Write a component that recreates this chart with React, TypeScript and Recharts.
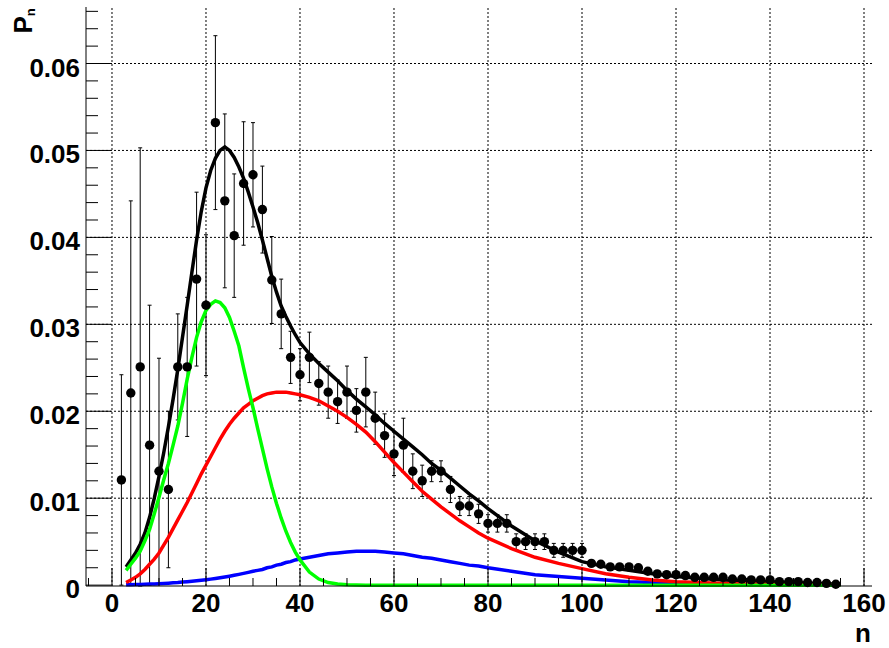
// Multiplicity distribution P(n) with fit and its three components

import {
  ComposedChart,
  Line,
  Scatter,
  ErrorBar,
  XAxis,
  YAxis,
  ReferenceLine,
} from 'recharts';

// measured points
const pointN = [
  2, 4, 6, 8, 10, 12, 14, 16, 18, 20, 22, 24, 26, 28, 30, 32, 34, 36, 38, 40,
  42, 44, 46, 48, 50, 52, 54, 56, 58, 60, 62, 64, 66, 68, 70, 72, 74, 76, 78, 80,
  82, 84, 86, 88, 90, 92, 94, 96, 98, 100, 102, 104, 106, 108, 110, 112, 114, 116, 118, 120,
  122, 124, 126, 128, 130, 132, 134, 136, 138, 140, 142, 144, 146, 148, 150, 152, 154,
];
const pointP = [
  0.0121, 0.0221, 0.0251, 0.0161, 0.0131, 0.011, 0.0251, 0.0251, 0.0352, 0.0322,
  0.0532, 0.0442, 0.0402, 0.0462, 0.0472, 0.0432, 0.0351, 0.0312, 0.0262, 0.0242,
  0.0262, 0.0232, 0.0222, 0.0211, 0.0222, 0.0201, 0.0222, 0.0192, 0.0172, 0.0151,
  0.0161, 0.0131, 0.012, 0.0131, 0.0131, 0.011, 0.0091, 0.0091, 0.0082, 0.0071,
  0.0071, 0.0071, 0.005, 0.005, 0.005, 0.005, 0.004, 0.004, 0.004, 0.004,
  0.0025, 0.0024, 0.0021, 0.0021, 0.0021, 0.002, 0.0016, 0.0013, 0.0012, 0.0012,
  0.0011, 0.0009, 0.0009, 0.0009, 0.0009, 0.0007, 0.0007, 0.0006, 0.0006, 0.0006,
  0.0004, 0.0004, 0.0004, 0.0003, 0.0003, 0.0002, 0.0001,
];
const pointErr = [
  0.0121, 0.0221, 0.0252, 0.0161, 0.013, 0.009, 0.0061, 0.008, 0.01, 0.0081,
  0.01, 0.01, 0.0071, 0.0071, 0.006, 0.005, 0.005, 0.004, 0.003, 0.003,
  0.0029, 0.0025, 0.003, 0.0025, 0.003, 0.0025, 0.004, 0.003, 0.0025, 0.0025,
  0.0031, 0.002, 0.0018, 0.0012, 0.0012, 0.0015, 0.0011, 0.0011, 0.0011, 0.001,
  0.001, 0.001, 0.0009, 0.0009, 0.0009, 0.0009, 0.0008, 0.0008, 0.0008, 0.0008,
  0.0003, 0.0003, 0.0003, 0.0003, 0.0003, 0.0003, 0.0002, 0.0002, 0.0002, 0.0002,
  0.0002, 0.0002, 0.0002, 0.0002, 0.0002, 0.0002, 0.0002, 0.0002, 0.0002, 0.0002,
  0.0002, 0.0002, 0.0002, 0.0002, 0.0002, 0.0002, 0.0002,
];

// fitted curves, sampled at these n
const curveN = [
  3, 4, 5, 6, 7, 8, 9, 10, 11, 12, 13, 14, 15, 16, 17, 18, 19, 20, 21, 22,
  23, 24, 25, 26, 27, 28, 29, 30, 31, 32, 33, 34, 35, 36, 37, 38, 39, 40,
  42, 44, 46, 48, 50, 52, 54, 56, 58, 60, 62, 64, 66, 68, 70, 72, 74, 76, 78, 80,
  85, 90, 95, 100, 105, 110, 115, 120, 125, 130, 135, 140, 145, 150, 155,
];
const totalFit = [
  0.0021, 0.0029, 0.0037, 0.0047, 0.006, 0.0078, 0.01, 0.0125, 0.0152, 0.0182,
  0.0214, 0.0248, 0.0285, 0.0322, 0.036, 0.0397, 0.043, 0.0457, 0.0477, 0.0491,
  0.05, 0.0504, 0.05, 0.0492, 0.0481, 0.0468, 0.0452, 0.0435, 0.0417, 0.0397,
  0.0376, 0.0355, 0.0337, 0.0321, 0.0309, 0.0298, 0.0288, 0.0279,
  0.0266, 0.0255, 0.0245, 0.0235, 0.0224, 0.0214, 0.0205, 0.0196, 0.0186, 0.0177,
  0.0168, 0.0159, 0.015, 0.014, 0.0132, 0.0123, 0.0114, 0.0105, 0.0097, 0.0088,
  0.0068, 0.0051, 0.0038, 0.0027, 0.0021, 0.0017, 0.0013, 0.001, 0.0008, 0.0006,
  0.0005, 0.0004, 0.0003, 0.0002, 0.0001,
];
const greenFit = [
  0.0017, 0.0024, 0.0031, 0.0039, 0.0051, 0.0064, 0.0082, 0.0101, 0.0121, 0.014,
  0.0161, 0.0183, 0.0209, 0.0237, 0.0262, 0.0285, 0.0303, 0.0316, 0.0323, 0.0327,
  0.0325, 0.0319, 0.0308, 0.0292, 0.0275, 0.025, 0.0226, 0.0204, 0.018, 0.0157,
  0.0134, 0.0113, 0.0094, 0.0077, 0.0062, 0.0049, 0.0038, 0.0029,
  0.0015, 0.0007, 0.0003, 0.00012, 0.00005, 0.00002, 0, 0, 0, 0,
  0, 0, 0, 0, 0, 0, 0, 0, 0, 0,
  0, 0, 0, 0, 0, 0, 0, 0, 0, 0,
  0, 0, 0, 0, 0,
];
const redFit = [
  0.0003, 0.0006, 0.0009, 0.0013, 0.0018, 0.0024, 0.003, 0.0037, 0.0046, 0.0055,
  0.0065, 0.0075, 0.0085, 0.0095, 0.0106, 0.0117, 0.0128, 0.0138, 0.0148, 0.0158,
  0.0168, 0.0177, 0.0185, 0.0192, 0.0198, 0.0204, 0.0208, 0.0212, 0.0215, 0.0218,
  0.022, 0.0221, 0.0222, 0.0222, 0.0222, 0.0221, 0.022, 0.0219,
  0.0216, 0.0212, 0.0206, 0.02, 0.0193, 0.0185, 0.0176, 0.0165, 0.0153, 0.0141,
  0.013, 0.0119, 0.0108, 0.0099, 0.009, 0.0082, 0.0074, 0.0067, 0.006, 0.0054,
  0.0042, 0.0032, 0.0025, 0.0019, 0.0013, 0.0009, 0.0006, 0.0004, 0.0003, 0.0002,
  0.00012, 0.00008, 0.00005, 0.00003, 0.00002,
];
const blueFit = [
  0.00003, 0.00004, 0.00006, 0.00008, 0.0001, 0.00012, 0.00014, 0.00017, 0.0002, 0.00023,
  0.00027, 0.0003, 0.00035, 0.0004, 0.00045, 0.0005, 0.00056, 0.00062, 0.00069, 0.00077,
  0.00085, 0.00094, 0.00103, 0.00113, 0.00124, 0.00135, 0.00147, 0.0016, 0.0017, 0.0018,
  0.002, 0.0021, 0.0023, 0.0024, 0.0026, 0.0027, 0.0029, 0.003,
  0.0032, 0.0034, 0.0036, 0.0037, 0.0038, 0.0039, 0.0039, 0.0039, 0.0038, 0.0037,
  0.0036, 0.0034, 0.0032, 0.0031, 0.0029, 0.0027, 0.0025, 0.0023, 0.0022, 0.002,
  0.0016, 0.0012, 0.001, 0.0008, 0.0006, 0.0004, 0.0003, 0.0002, 0.00014, 0.0001,
  0.00007, 0.00005, 0.00003, 0.00002, 0.00001,
];

// axis ticks (majors get labels + grid)
const xTicks = [
  -5, 0, 5, 10, 15, 20, 25, 30, 35, 40, 45, 50, 55, 60, 65, 70, 75, 80, 85, 90,
  95, 100, 105, 110, 115, 120, 125, 130, 135, 140, 145, 150, 155, 160,
];
const yTicks = [
  0, 0.002, 0.004, 0.006, 0.008, 0.01, 0.012, 0.014, 0.016, 0.018, 0.02, 0.022,
  0.024, 0.026, 0.028, 0.03, 0.032, 0.034, 0.036, 0.038, 0.04, 0.042, 0.044,
  0.046, 0.048, 0.05, 0.052, 0.054, 0.056, 0.058, 0.06, 0.062, 0.064, 0.066,
];
const xGrid = [0, 20, 40, 60, 80, 100, 120, 140, 160];
const yGrid = [0.01, 0.02, 0.03, 0.04, 0.05, 0.06];

const points = pointN.map((n, i) => ({ n, p: pointP[i], e: pointErr[i] }));
const fitData = curveN.map((n, i) => ({
  n,
  total: totalFit[i],
  green: greenFit[i],
  red: redFit[i],
  blue: blueFit[i],
}));

const FONT = '"Liberation Sans", Arial, Helvetica, sans-serif';
const CURVE_W = 3.5;

const isMajorY = (v: number) => Math.abs(v * 100 - Math.round(v * 100)) < 1e-6;

function YTick(props: any) {
  const { x, y, payload } = props;
  const v = payload.value;
  const major = isMajorY(v);
  return (
    <g>
      <line x1={x} x2={x + (major ? 25 : 12)} y1={y} y2={y} stroke="#000" strokeWidth={1} />
      {major && (
        <text x={x - 6} y={y + 13} textAnchor="end" fontFamily={FONT} fontWeight="bold" fontSize={26} fill="#000">
          {v === 0 ? '0' : v.toFixed(2)}
        </text>
      )}
    </g>
  );
}

function XTick(props: any) {
  const { x, y, payload } = props;
  const v = payload.value;
  const major = v % 20 === 0;
  return (
    <g>
      <line x1={x} x2={x} y1={y} y2={y - (major ? 18 : 8)} stroke="#000" strokeWidth={1} />
      {major && (
        <text x={x} y={y + 26} textAnchor="middle" fontFamily={FONT} fontWeight="bold" fontSize={26} fill="#000">
          {v}
        </text>
      )}
    </g>
  );
}

function XTitle() {
  return (
    <text x={871} y={642} textAnchor="end" fontFamily={FONT} fontWeight="bold" fontSize={26} fill="#000">
      n
    </text>
  );
}

function YTitle() {
  return (
    <text transform="translate(31.7,33.5) rotate(-90)" fontFamily={FONT} fontWeight="bold" fill="#000">
      <tspan fontSize={26}>P</tspan>
      <tspan fontSize={13} dy={3.3}>n</tspan>
    </text>
  );
}

const Dot = (p: any) => <circle cx={p.cx} cy={p.cy} r={4.7} fill="#000" />;

export default function App() {
  return (
    <div style={{ position: 'absolute', left: 0, top: 0, background: '#fff' }}>
      <ComposedChart
        width={889}
        height={648}
        data={fitData}
        margin={{ top: 7, right: 17, bottom: 0, left: 0 }}
      >
        <XAxis
          dataKey="n"
          type="number"
          domain={[-5.53, 161.7]}
          ticks={xTicks}
          interval={0}
          tickSize={0}
          tickMargin={0}
          tick={<XTick />}
          height={62}
          axisLine={{ stroke: '#000' }}
          label={<XTitle />}
        />
        <XAxis
          xAxisId="top"
          orientation="top"
          type="number"
          domain={[-5.53, 161.7]}
          tick={false}
          tickLine={false}
          height={0}
          axisLine={{ stroke: '#000' }}
        />
        <YAxis
          type="number"
          domain={[0, 0.0665]}
          ticks={yTicks}
          interval={0}
          tickSize={0}
          tickMargin={0}
          tick={<YTick />}
          width={86}
          axisLine={{ stroke: '#000' }}
          label={<YTitle />}
        />
        <YAxis
          yAxisId="right"
          orientation="right"
          type="number"
          domain={[0, 0.0665]}
          tick={false}
          tickLine={false}
          width={0}
          axisLine={{ stroke: '#000' }}
        />
        {xGrid.map((v) => (
          <ReferenceLine key={'gx' + v} x={v} stroke="#000" strokeDasharray="2 2" strokeWidth={1} />
        ))}
        {yGrid.map((v) => (
          <ReferenceLine key={'gy' + v} y={v} stroke="#000" strokeDasharray="2 2" strokeWidth={1} />
        ))}
        <Scatter data={points} dataKey="p" shape={Dot} isAnimationActive={false}>
          <ErrorBar dataKey="e" direction="y" width={2} stroke="#000" strokeWidth={1} />
        </Scatter>
        <Line type="linear" dataKey="total" stroke="#000000" strokeWidth={CURVE_W} dot={false} isAnimationActive={false} />
        <Line type="linear" dataKey="blue" stroke="#0000ff" strokeWidth={CURVE_W} dot={false} isAnimationActive={false} />
        <Line type="linear" dataKey="red" stroke="#ff0000" strokeWidth={CURVE_W} dot={false} isAnimationActive={false} />
        <Line type="linear" dataKey="green" stroke="#00ff00" strokeWidth={CURVE_W} dot={false} isAnimationActive={false} />
      </ComposedChart>
    </div>
  );
}
